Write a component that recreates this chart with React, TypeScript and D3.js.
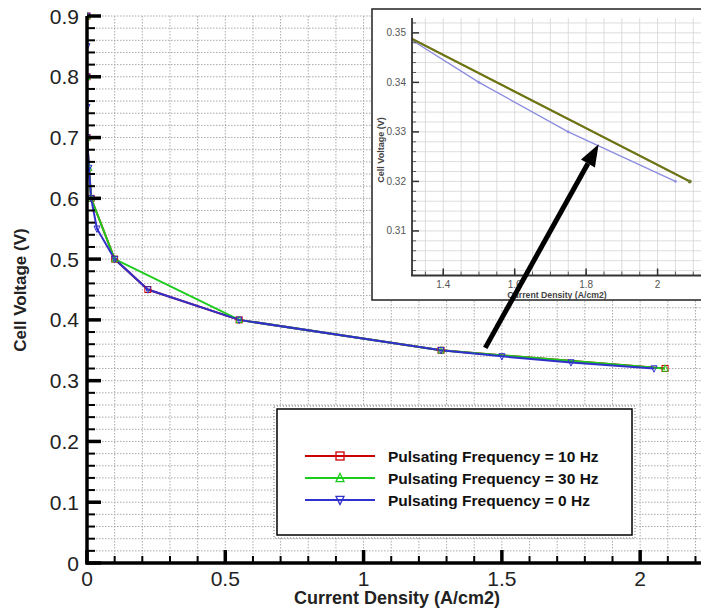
import React from "react";
import * as d3 from "d3";

// ---- data ----
const hz10X = [0, 0, 0, 0.015, 0.1, 0.22, 0.55, 1.28, 2.09];
const hz10Y = [0.9, 0.8, 0.7, 0.6, 0.5, 0.45, 0.4, 0.35, 0.32];
const hz30X = [0, 0, 0, 0.007, 0.015, 0.1, 0.55, 1.28, 2.09];
const hz30Y = [0.9, 0.8, 0.7, 0.65, 0.6, 0.5, 0.4, 0.35, 0.32];
const hz0X = [0, 0, 0, 0, 0, 0.007, 0.015, 0.036, 0.1, 0.22, 0.55, 1.28, 1.5, 1.75, 2.05];
const hz0Y = [0.9, 0.85, 0.8, 0.75, 0.7, 0.65, 0.6, 0.55, 0.5, 0.45, 0.4, 0.35, 0.34, 0.33, 0.32];

const seriesNames = [
  "Pulsating Frequency = 10 Hz",
  "Pulsating Frequency = 30 Hz",
  "Pulsating Frequency = 0 Hz",
];
const seriesColors = ["#cc0000", "#1ccc1c", "#3030cc"];
const seriesMarkers = ["square", "up", "down"];

const xMajorTicks = [0, 0.5, 1, 1.5, 2];
const xTickLabels = ["0", "0.5", "1", "1.5", "2"];
const yMajorTicks = [0, 0.1, 0.2, 0.3, 0.4, 0.5, 0.6, 0.7, 0.8, 0.9];
const yTickLabels = ["0", "0.1", "0.2", "0.3", "0.4", "0.5", "0.6", "0.7", "0.8", "0.9"];

const insetXTicks = [1.4, 1.6, 1.8, 2];
const insetXTickLabels = ["1.4", "1.6", "1.8", "2"];
const insetYTicks = [0.31, 0.32, 0.33, 0.34, 0.35];
const insetYTickLabels = ["0.31", "0.32", "0.33", "0.34", "0.35"];

// arrow: tail in main-plot data coords, tip in inset data coords
const arrowTail = [1.44, 0.354];
const arrowTip = [1.835, 0.3275];

const FONT = "'Liberation Sans', Arial, sans-serif";

function marker(type: string, cx: number, cy: number, s: number, color: string, key: any, sw = 1) {
  if (type === "square") {
    return <rect key={key} x={cx - s / 2} y={cy - s / 2} width={s} height={s} fill="none" stroke={color} strokeWidth={sw} />;
  }
  const h = s * 0.9;
  const pts =
    type === "up"
      ? [[cx, cy - h / 2 - 1], [cx - s / 2, cy + h / 2], [cx + s / 2, cy + h / 2]]
      : [[cx, cy + h / 2 + 1], [cx - s / 2, cy - h / 2], [cx + s / 2, cy - h / 2]];
  return <polygon key={key} points={pts.map((p) => p.join(",")).join(" ")} fill="none" stroke={color} strokeWidth={sw} />;
}

export default function App() {
  const W = 701, H = 611;
  const x = d3.scaleLinear().domain([0, 2.22]).range([87, 701]);
  const y = d3.scaleLinear().domain([0, 0.9]).range([563, 16]);

  const xs = [hz10X, hz30X, hz0X];
  const ys = [hz10Y, hz30Y, hz0Y];
  const series = xs.map((xa, i) => xa.map((v, j) => [v, ys[i][j]] as [number, number]));

  const line = d3.line<[number, number]>().x((d) => x(d[0])).y((d) => y(d[1]));

  const xGrid = d3.range(1, 23).map((i) => i / 10);
  const yGrid = d3.range(1, 46).map((i) => i / 50);
  const xMinor = d3.range(1, 23).map((i) => i / 10).filter((v) => Math.abs(v * 2 - Math.round(v * 2)) > 1e-6);
  const yMinor = d3.range(1, 45).map((i) => i / 50).filter((v) => Math.abs(v * 10 - Math.round(v * 10)) > 1e-6);

  // inset
  const ix = d3.scaleLinear().domain([1.3125, 2.13]).range([412, 704]);
  const iy = d3.scaleLinear().domain([0.301, 0.353]).range([275.5, 18]);
  const iline = d3.line<[number, number]>().x((d) => ix(d[0])).y((d) => iy(d[1]));
  const iGridX = d3.range(27, 43).map((i) => i * 0.05);
  const iGridY = d3.range(151, 177).map((i) => i * 0.002);

  // arrow
  const tx = x(arrowTail[0]), ty = y(arrowTail[1]);
  const hx = ix(arrowTip[0]), hy = iy(arrowTip[1]);
  const dx = hx - tx, dy = hy - ty;
  const len = Math.hypot(dx, dy);
  const ux = dx / len, uy = dy / len;
  const hl = 22, hw = 8;
  const bx = hx - ux * hl, by = hy - uy * hl;
  const nx = -uy, ny = ux;

  return (
    <svg width={W} height={H} style={{ position: "absolute", left: 0, top: 0, background: "#fff" }} fontFamily={FONT}>
      <defs>
        <clipPath id="mainClip">
          <rect x={87} y={10} width={614} height={556} />
        </clipPath>
        <clipPath id="insetClip">
          <rect x={412} y={18} width={289} height={258} />
        </clipPath>
      </defs>
      <rect x={0} y={0} width={W} height={H} fill="#fff" />

      {/* main grid */}
      <g stroke="#aaaaaa" strokeWidth={1} strokeDasharray="1.5,1.5">
        {xGrid.map((v, i) => (
          <line key={"gx" + i} x1={x(v)} x2={x(v)} y1={y(0.9)} y2={y(0)} />
        ))}
        {yGrid.map((v, i) => (
          <line key={"gy" + i} x1={x(0)} x2={701} y1={y(v)} y2={y(v)} />
        ))}
      </g>

      {/* series */}
      <g clipPath="url(#mainClip)">
        {series.map((s, i) => (
          <path key={"s" + i} d={line(s) || ""} fill="none" stroke={seriesColors[i]} strokeWidth={2} />
        ))}
        {series.map((s, i) =>
          s.map((d, j) => marker(seriesMarkers[i], x(d[0]), y(d[1]), 6, seriesColors[i], "m" + i + "-" + j, 1))
        )}
      </g>

      {/* main axes */}
      <g stroke="#000">
        <line x1={x(0)} x2={x(0)} y1={y(0.9)} y2={y(0) + 1.5} strokeWidth={3.5} />
        <line x1={x(0) - 1.5} x2={701} y1={y(0)} y2={y(0)} strokeWidth={3.5} />
        {yMajorTicks.map((v, i) => (
          <line key={"ymt" + i} x1={x(0)} x2={x(0) + 14} y1={y(v)} y2={y(v)} strokeWidth={3.5} />
        ))}
        {yMinor.map((v, i) => (
          <line key={"ymn" + i} x1={x(0)} x2={x(0) + 8} y1={y(v)} y2={y(v)} strokeWidth={2} />
        ))}
        {xMajorTicks.map((v, i) => (
          <line key={"xmt" + i} x1={x(v)} x2={x(v)} y1={y(0)} y2={y(0) - 13} strokeWidth={3.5} />
        ))}
        {xMinor.map((v, i) => (
          <line key={"xmn" + i} x1={x(v)} x2={x(v)} y1={y(0)} y2={y(0) - 7} strokeWidth={2} />
        ))}
      </g>

      {/* tick labels */}
      <g fontSize={21} fill="#222">
        {yMajorTicks.map((v, i) => (
          <text key={"yl" + i} x={79} y={y(v)} textAnchor="end" dominantBaseline="central">
            {yTickLabels[i]}
          </text>
        ))}
        {xMajorTicks.map((v, i) => (
          <text key={"xl" + i} x={x(v)} y={586} textAnchor="middle">
            {xTickLabels[i]}
          </text>
        ))}
      </g>

      {/* axis titles */}
      <text x={397} y={604} textAnchor="middle" fontSize={18} fontWeight="bold" fill="#222">
        Current Density (A/cm2)
      </text>
      <text
        transform="translate(20,290) rotate(-90)"
        textAnchor="middle"
        dominantBaseline="central"
        fontSize={17}
        fontWeight="bold"
        fill="#222"
      >
        Cell Voltage (V)
      </text>

      {/* legend */}
      <rect x={274} y={406} width={361} height={132} fill="#fff" stroke="#777" strokeWidth={1} strokeDasharray="1,2" />
      <rect x={277} y={409} width={355} height={126} fill="#fff" stroke="#000" strokeWidth={1.5} />
      {seriesNames.map((n, i) => {
        const ly = 456 + i * 22;
        return (
          <g key={"lg" + i}>
            <line x1={305} x2={375} y1={ly} y2={ly} stroke={seriesColors[i]} strokeWidth={2} />
            {marker(seriesMarkers[i], 340, ly, 8, seriesColors[i], "lm" + i, 1.3)}
            <text x={388} y={ly} dominantBaseline="central" fontSize={15.5} fontWeight="bold" fill="#111">
              {n}
            </text>
          </g>
        );
      })}

      {/* inset */}
      <rect x={372} y={9} width={340} height={291} fill="#fff" stroke="#222" strokeWidth={1.5} />
      <g stroke="#d4d4d4" strokeWidth={0.8}>
        {iGridX.map((v, i) => (
          <line key={"igx" + i} x1={ix(v)} x2={ix(v)} y1={iy(0.353)} y2={iy(0.301)} />
        ))}
        {iGridY.map((v, i) => (
          <line key={"igy" + i} x1={412} x2={701} y1={iy(v)} y2={iy(v)} />
        ))}
      </g>
      <g clipPath="url(#insetClip)">
        <path d={iline(series[2]) || ""} fill="none" stroke="#8c8ce0" strokeWidth={1.3} />
        <path d={iline(series[0]) || ""} fill="none" stroke="#cc0000" strokeWidth={2} />
        <path d={iline(series[1]) || ""} fill="none" stroke="#1ccc1c" strokeWidth={2} strokeOpacity={0.6} />
        {series[2].map((d, j) => (
          <circle key={"ib" + j} cx={ix(d[0])} cy={iy(d[1])} r={1.3} fill="#8c8ce0" />
        ))}
        {series[0].map((d, j) => (
          <circle key={"ir" + j} cx={ix(d[0])} cy={iy(d[1])} r={2} fill="#6f7d30" />
        ))}
      </g>
      <g stroke="#333">
        <line x1={412} x2={412} y1={18} y2={276} strokeWidth={1.8} />
        <line x1={411} x2={701} y1={275.5} y2={275.5} strokeWidth={1.8} />
        {insetYTicks.map((v, i) => (
          <line key={"iyt" + i} x1={412} x2={419} y1={iy(v)} y2={iy(v)} strokeWidth={1.5} />
        ))}
        {iGridY.filter((_, i) => i % 5 !== 4).map((v, i) => (
          <line key={"iym" + i} x1={412} x2={416} y1={iy(v)} y2={iy(v)} strokeWidth={0.8} />
        ))}
        {insetXTicks.map((v, i) => (
          <line key={"ixt" + i} x1={ix(v)} x2={ix(v)} y1={275.5} y2={268.5} strokeWidth={1.5} />
        ))}
        {iGridX.map((v, i) => (
          <line key={"ixm" + i} x1={ix(v)} x2={ix(v)} y1={275.5} y2={271.5} strokeWidth={0.8} />
        ))}
      </g>
      <g fontSize={10} fill="#555">
        {insetYTicks.map((v, i) => (
          <text key={"iyl" + i} x={406} y={iy(v)} textAnchor="end" dominantBaseline="central">
            {insetYTickLabels[i]}
          </text>
        ))}
        {insetXTicks.map((v, i) => (
          <text key={"ixl" + i} x={ix(v)} y={288} textAnchor="middle">
            {insetXTickLabels[i]}
          </text>
        ))}
      </g>
      <text x={557} y={297.5} textAnchor="middle" fontSize={8.7} fontWeight="bold" fill="#444">
        Current Density (A/cm2)
      </text>
      <text
        transform="translate(381,150) rotate(-90)"
        textAnchor="middle"
        dominantBaseline="central"
        fontSize={9}
        fontWeight="bold"
        fill="#444"
      >
        Cell Voltage (V)
      </text>

      {/* arrow */}
      <line x1={tx} y1={ty} x2={bx} y2={by} stroke="#000" strokeWidth={5} />
      <polygon
        points={`${hx},${hy} ${bx + nx * hw},${by + ny * hw} ${bx - nx * hw},${by - ny * hw}`}
        fill="#000"
      />
    </svg>
  );
}
